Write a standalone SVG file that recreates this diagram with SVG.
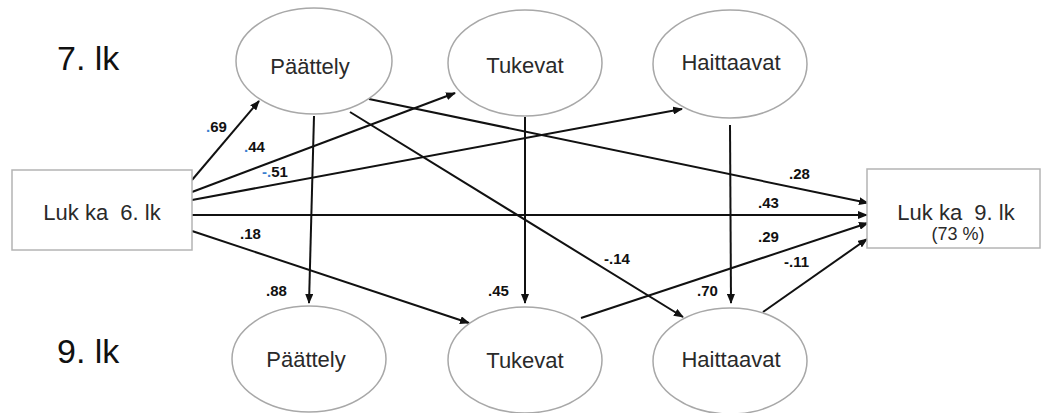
<svg xmlns="http://www.w3.org/2000/svg" width="1043" height="413" viewBox="0 0 1043 413">
<style>
.node{fill:#fff;stroke:#a8a8a8;stroke-width:1.5}
.box{fill:#fff;stroke:#b4b4b4;stroke-width:1.5}
.nt{font-family:"Liberation Sans",Arial,sans-serif;font-size:22px;fill:#2a2a2a;text-anchor:middle;white-space:pre}
.big{font-family:"Liberation Sans",Arial,sans-serif;font-size:34px;fill:#111}
.lbl{font-family:"Liberation Sans",Arial,sans-serif;font-size:15px;font-weight:bold;fill:#111}
.bl{fill:#3b7fcf}
.e{stroke:#111;stroke-width:2;fill:none;marker-end:url(#ah)}
</style>
<defs>
<marker id="ah" markerUnits="userSpaceOnUse" markerWidth="10" markerHeight="8" refX="9" refY="4" orient="auto">
<path d="M0,0 L10,4 L0,8 z" fill="#111"/>
</marker>
</defs>
<rect width="1043" height="413" fill="#fff"/>
<text class="big" x="57" y="70">7. lk</text>
<text class="big" x="57" y="363">9. lk</text>
<g id="connectors">
<line class="e" x1="192" y1="180" x2="259" y2="101"/>
<line class="e" x1="192" y1="192" x2="455" y2="93"/>
<line class="e" x1="192" y1="200" x2="682" y2="109"/>
<line class="e" x1="192" y1="215" x2="867" y2="215"/>
<line class="e" x1="192" y1="231" x2="469" y2="323"/>
<line class="e" x1="314" y1="116" x2="309" y2="303"/>
<line class="e" x1="369" y1="99" x2="868" y2="203"/>
<line class="e" x1="350" y1="112" x2="683" y2="317"/>
<line class="e" x1="525" y1="117" x2="525" y2="303"/>
<line class="e" x1="730" y1="125" x2="731" y2="303"/>
<line class="e" x1="581" y1="318" x2="868" y2="223"/>
<line class="e" x1="763" y1="312" x2="867" y2="239"/>
</g>
<g id="labels">
<text class="lbl" x="206" y="132"><tspan class="bl">.</tspan>69</text>
<text class="lbl" x="244" y="152"><tspan class="bl">.</tspan>44</text>
<text class="lbl" x="262" y="177"><tspan class="bl">-.</tspan>51</text>
<text class="lbl" x="240" y="239">.18</text>
<text class="lbl" x="266" y="296">.88</text>
<text class="lbl" x="488" y="296">.45</text>
<text class="lbl" x="697" y="296">.70</text>
<text class="lbl" x="604" y="264">-.14</text>
<text class="lbl" x="789" y="179">.28</text>
<text class="lbl" x="758" y="208">.43</text>
<text class="lbl" x="758" y="242">.29</text>
<text class="lbl" x="784" y="267">-.11</text>
</g>
<g id="luk6">
<rect class="box" x="12" y="170" width="180" height="80"/>
<text class="nt" x="102" y="220" xml:space="preserve">Luk ka  6. lk</text>
</g>
<g id="luk9">
<rect class="box" x="867" y="169" width="173" height="79"/>
<text class="nt" x="956" y="220" xml:space="preserve">Luk ka  9. lk</text>
<text class="nt" x="958" y="240" style="font-size:18px">(73 %)</text>
</g>
<g id="paattely7">
<ellipse class="node" cx="314" cy="61" rx="78" ry="53"/>
<text class="nt" x="310" y="74">Päättely</text>
</g>
<g id="tukevat7">
<ellipse class="node" cx="525" cy="63" rx="77" ry="53"/>
<text class="nt" x="525" y="73">Tukevat</text>
</g>
<g id="haittaavat7">
<ellipse class="node" cx="730" cy="64" rx="77" ry="54"/>
<text class="nt" x="731" y="70">Haittaavat</text>
</g>
<g id="paattely9">
<ellipse class="node" cx="309" cy="359" rx="77" ry="53"/>
<text class="nt" x="306" y="367">Päättely</text>
</g>
<g id="tukevat9">
<ellipse class="node" cx="525" cy="360" rx="77" ry="53"/>
<text class="nt" x="525" y="368">Tukevat</text>
</g>
<g id="haittaavat9">
<ellipse class="node" cx="730" cy="361" rx="77" ry="53"/>
<text class="nt" x="731" y="367">Haittaavat</text>
</g>
</svg>
